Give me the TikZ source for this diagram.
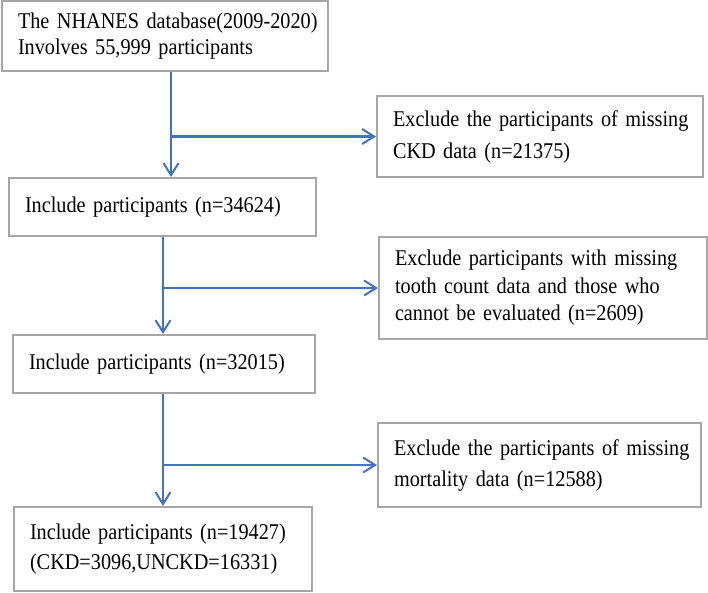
\documentclass[tikz,border=0pt]{standalone}
\usepackage{fontspec}
\setmainfont{Liberation Serif}[FakeStretch=0.9]
\usetikzlibrary{arrows.meta}
\definecolor{boxgray}{HTML}{A6A6A6}
\definecolor{flowblue}{HTML}{4472C4}
\newcommand{\oneline}[1]{\mbox{#1}}
\tikzset{
  stagebox/.style={draw=boxgray, line width=2pt, rectangle, inner xsep=16pt, inner ysep=0pt,
    align=left, font=\fontsize{22.5}{26}\selectfont},
  flow/.style={draw=flowblue, line width=2.1pt,
    -{Straight Barb[length=12pt, width=15pt, line width=2pt]}}
}
\begin{document}
\begin{tikzpicture}[x=1pt, y=-1pt]
\useasboundingbox (0,0) rectangle (708,592);

% boxes of the selection steps
\node[stagebox, text width=294pt, minimum height=70pt] (A) at (165,36)
  {\oneline{The NHANES database(2009-2020)}\\\oneline{Involves 55,999 participants}};
\node[stagebox, text width=294pt, minimum height=81pt,
  font=\fontsize{22.5}{32}\selectfont] (B) at (540,136.5)
  {\oneline{Exclude the participants of missing}\\\oneline{CKD data (n=21375)}};
\node[stagebox, text width=275pt, minimum height=58pt] (C) at (162.5,207)
  {\oneline{Include participants (n=34624)}};
\node[stagebox, text width=296pt, minimum height=102pt,
  font=\fontsize{22.5}{27.5}\selectfont] (D) at (543,288)
  {\oneline{Exclude participants with missing}\\\oneline{tooth count data and those who}\\\oneline{cannot be evaluated (n=2609)}};
\node[stagebox, text width=270pt, minimum height=58pt] (E) at (164,364)
  {\oneline{Include participants (n=32015)}};
\node[stagebox, text width=291pt, minimum height=84pt,
  font=\fontsize{22.5}{31}\selectfont] (F) at (539.5,465)
  {\oneline{Exclude the participants of missing}\\\oneline{mortality data (n=12588)}};
\node[stagebox, text width=266pt, minimum height=84pt,
  font=\fontsize{22.5}{30}\selectfont] (G) at (163,549)
  {\oneline{Include participants (n=19427)}\\\oneline{(CKD=3096,UNCKD=16331)}};

% branch points on the main flow
\coordinate (j1) at (171,136.5);
\coordinate (j2) at (163,288);
\coordinate (j3) at (163,465);

% main flow with exclusion branches
\draw[flow] (A.south -| j1) -- (C.north -| j1);
\draw[flow] (j1) -- (B.west);
\draw[flow] (C.south -| j2) -- (E.north -| j2);
\draw[flow] (j2) -- (D.west);
\draw[flow] (E.south -| j3) -- (G.north -| j3);
\draw[flow] (j3) -- (F.west);
\end{tikzpicture}
\end{document}
